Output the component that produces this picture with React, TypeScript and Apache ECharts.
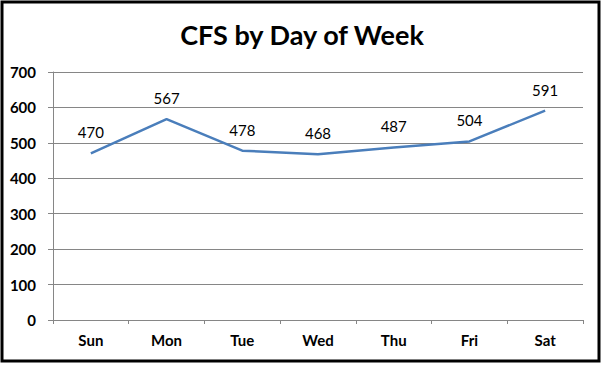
import React, { useEffect, useRef } from "react";
import * as echarts from "echarts";

const categories = ["Sun", "Mon", "Tue", "Wed", "Thu", "Fri", "Sat"];
const values = [470, 567, 478, 468, 487, 504, 591];
const titleText = "CFS by Day of Week";

export default function App() {
  const ref = useRef<HTMLDivElement>(null);
  useEffect(() => {
    const chart = echarts.init(ref.current!, null, { renderer: "svg" });
    chart.setOption({
      animation: false,
      backgroundColor: "#ffffff",
      title: {
        text: titleText,
        left: "center",
        top: 16,
        textStyle: { fontFamily: "Lato", fontWeight: "bold", fontSize: 27, color: "#000" },
      },
      graphic: [
        {
          type: "rect",
          shape: { x: 2, y: 2, width: 597, height: 359 },
          style: { fill: "none", stroke: "#000", lineWidth: 3 },
          silent: true,
        },
      ],
      grid: { left: 53, right: 21, top: 72, bottom: 45, containLabel: false },
      xAxis: {
        type: "category",
        data: categories,
        boundaryGap: true,
        axisLine: { lineStyle: { color: "#868686", width: 1 } },
        axisTick: { show: true, length: 4, lineStyle: { color: "#868686" } },
        axisLabel: { color: "#000", fontFamily: "Lato", fontWeight: "bold", fontSize: 15, margin: 12 },
      },
      yAxis: {
        type: "value",
        min: 0,
        max: 700,
        interval: 100,
        axisLine: { show: true, lineStyle: { color: "#868686", width: 1 } },
        axisTick: { show: true, length: 5, lineStyle: { color: "#868686" } },
        splitLine: { show: true, lineStyle: { color: "#868686", width: 1 } },
        axisLabel: { color: "#000", fontFamily: "Lato", fontWeight: "bold", fontSize: 15, margin: 17 },
      },
      series: [
        {
          type: "line",
          data: values,
          symbol: "circle",
          symbolSize: 1,
          showSymbol: true,
          itemStyle: { color: "rgba(74,126,187,0)", borderWidth: 0 },
          lineStyle: { color: "#4a7ebb", width: 2.5 },
          label: {
            show: true,
            position: "top",
            distance: 13,
            color: "#000",
            fontFamily: "Lato",
            fontSize: 15,
          },
        },
      ],
    });
    return () => chart.dispose();
  }, []);
  return (
    <div style={{ position: "absolute", left: 0, top: 0, width: 604, height: 365 }}>
      <div ref={ref} style={{ width: 604, height: 365 }} />
    </div>
  );
}
